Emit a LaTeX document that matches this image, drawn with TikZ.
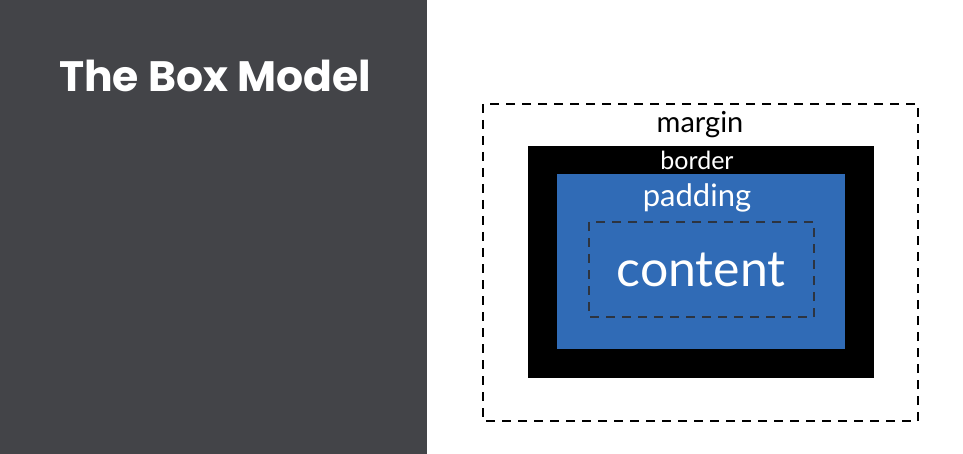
\documentclass[tikz,border=0pt]{standalone}
\usepackage{fontspec}
\setmainfont{Lato}
\newfontfamily\titlefont{Poppins}
\definecolor{panel}{HTML}{434448}
\definecolor{padblue}{HTML}{306BB6}
\definecolor{dashgray}{HTML}{2D3440}
\begin{document}
\begin{tikzpicture}[x=1pt,y=-1pt,
  lbl/.style={inner sep=0pt, anchor=base},
  dashbox/.style={dash pattern=on 9pt off 7pt, line width=1.4pt}]
\useasboundingbox (0,0) rectangle (963,454);
\fill[white] (0,0) rectangle (963,454);
\fill[panel] (0,0) rectangle (427,454);
\node[lbl, text=white, font=\titlefont\fontsize{42.5}{42.5}\selectfont\bfseries] (title) at (215,92) {The Box Model};
% margin
\draw[dashbox, black] (483,104) rectangle (918,421);
\node[lbl, font=\fontsize{29}{29}\selectfont] (margin) at (700,133) {margin};
% border
\fill[black] (528,146) rectangle (874,378);
\node[lbl, text=white, font=\fontsize{25}{25}\selectfont] (border) at (697,170) {border};
% padding
\fill[padblue] (557,174) rectangle (845,349);
\node[lbl, text=white, font=\fontsize{31}{31}\selectfont] (padding) at (697,207) {padding};
% content
\draw[dashbox, dashgray] (589,222) rectangle (814,317);
\node[lbl, text=white, font=\fontsize{50}{50}\selectfont] (content) at (701,286) {content};
\end{tikzpicture}
\end{document}
